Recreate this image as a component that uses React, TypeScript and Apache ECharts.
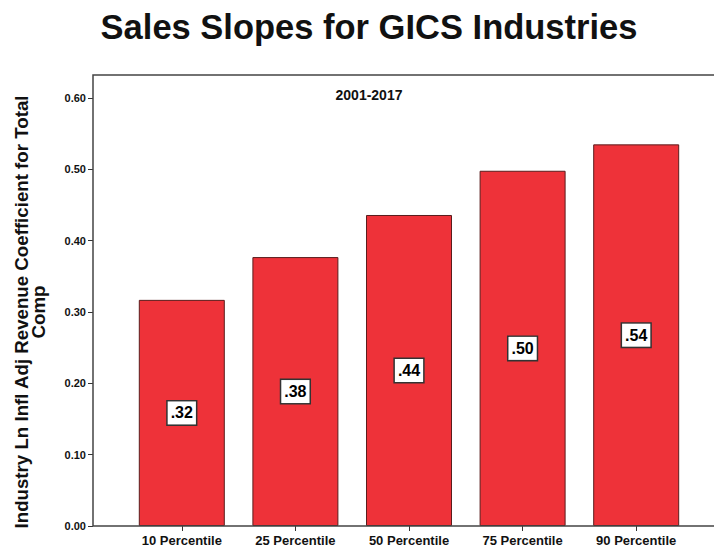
import React, { useEffect, useRef } from "react";
import * as echarts from "echarts";

const categories = ["10 Percentile", "25 Percentile", "50 Percentile", "75 Percentile", "90 Percentile"];
const values = [0.317, 0.377, 0.436, 0.498, 0.535];
const yTicks = [0, 0.1, 0.2, 0.3, 0.4, 0.5, 0.6];

const FONT = "'Liberation Sans', Arial, sans-serif";

export default function App() {
  const ref = useRef<HTMLDivElement>(null);
  useEffect(() => {
    if (!ref.current) return;
    const chart = echarts.init(ref.current, null, { renderer: "svg" });
    chart.setOption({
      animation: false,
      backgroundColor: "#ffffff",
      textStyle: { fontFamily: FONT },
      title: [
        {
          text: "Sales Slopes for GICS Industries",
          left: 364,
          top: 4,
          textAlign: "center",
          textStyle: { fontSize: 34.5, fontWeight: "bold", color: "#111", fontFamily: FONT },
        },
        {
          text: "2001-2017",
          left: 364,
          top: 83,
          textAlign: "center",
          textStyle: { fontSize: 14, fontWeight: "bold", color: "#111", fontFamily: FONT },
        },
      ],
      graphic: [
        {
          type: "polyline",
          shape: { points: [[714, 75], [93, 75], [93, 526], [714, 526]] },
          style: { stroke: "#444", lineWidth: 1.5, fill: null },
          z: 10,
        },
      ],
      grid: { left: 125, right: 21, top: 98, bottom: 22, containLabel: false },
      xAxis: {
        type: "category",
        data: categories,
        axisLine: { show: false },
        axisTick: { show: true, alignWithLabel: true, length: 5, lineStyle: { color: "#333" } },
        axisLabel: { fontSize: 13, fontWeight: "bold", color: "#111", margin: 8, fontFamily: FONT },
      },
      yAxis: {
        type: "value",
        min: yTicks[0],
        max: yTicks[yTicks.length - 1],
        interval: 0.1,
        offset: 32,
        splitLine: { show: false },
        axisLine: { show: false },
        axisTick: { show: true, length: 5, lineStyle: { color: "#333" } },
        axisLabel: {
          fontSize: 11,
          fontWeight: "bold",
          color: "#111",
          margin: 7,
          fontFamily: FONT,
          formatter: (v: number) => v.toFixed(2),
        },
        name: "Industry Ln Infl Adj Revenue Coefficient for Total\nComp",
        nameLocation: "middle",
        nameGap: 46,
        nameTextStyle: { fontSize: 18.7, fontWeight: "bold", color: "#111", fontFamily: FONT, lineHeight: 17 },
      },
      series: [
        {
          type: "bar",
          data: values,
          barWidth: 86,
          itemStyle: { color: "#EE3239", borderColor: "#5a1d1d", borderWidth: 1 },
          label: {
            show: true,
            position: "inside",
            formatter: (p: any) => Number(p.value).toFixed(2).replace(/^0/, ""),
            fontSize: 16,
            fontWeight: "bold",
            color: "#000",
            fontFamily: FONT,
            backgroundColor: "#fff",
            borderColor: "#333",
            borderWidth: 1.5,
            padding: [4, 3, 3, 3],
          },
        },
      ],
    });
    return () => chart.dispose();
  }, []);
  return <div ref={ref} style={{ width: 714, height: 548, position: "absolute", left: 0, top: 0 }} />;
}
